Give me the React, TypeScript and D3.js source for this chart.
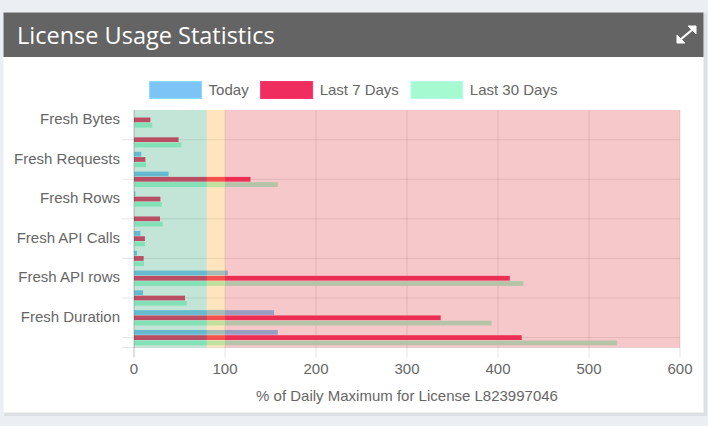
import { useEffect, useRef } from "react"
import * as d3 from "d3"

// 12 categories; the chart only prints every other label (auto-skip)
const categories = [
  "Fresh Bytes",
  "Total Bytes",
  "Fresh Requests",
  "Total Requests",
  "Fresh Rows",
  "Total Rows",
  "Fresh API Calls",
  "Total API Calls",
  "Fresh API rows",
  "Total API rows",
  "Fresh Duration",
  "Total Duration",
]
const shownLabels = categories.filter((_, i) => i % 2 === 0)

const seriesNames = ["Today", "Last 7 Days", "Last 30 Days"]
const today = [0, 0, 8, 38, 1.5, 0, 7, 3.3, 103, 10, 154, 158]
const last7 = [18, 49, 12.5, 128, 29, 28.6, 12, 10.6, 413, 56, 337, 426]
const last30 = [20, 52, 13.3, 158, 30.4, 31.5, 12, 11, 428, 58, 393, 531]
const seriesColors = ["#7dc4f6", "#f02d5f", "#a5fad2"]

// threshold bands drawn over the bars
const bands = [
  { from: 0, to: 80, color: "rgba(40,160,110,0.28)" },
  { from: 80, to: 100, color: "rgba(255,165,40,0.3)" },
  { from: 100, to: 600, color: "rgba(225,52,55,0.27)" },
]
const xTicks = [0, 100, 200, 300, 400, 500, 600]
const xTitle = "% of Daily Maximum for License L823997046"

export default function App() {
  const svgRef = useRef<SVGSVGElement>(null)

  useEffect(() => {
    if (!svgRef.current) return
    const W = 708
    const H = 426
    const svg = d3.select(svgRef.current)
    svg.selectAll("*").remove()

    const font = "'Liberation Sans', Arial, Helvetica, sans-serif"
    const textColor = "#666"

    // page + panel
    svg.append("rect").attr("width", W).attr("height", H).attr("fill", "#ebeef2")
    svg.append("rect").attr("x", 4).attr("y", 13).attr("width", 703).attr("height", 403).attr("fill", "#dcdfe3")
    svg.append("rect").attr("x", 3.5).attr("y", 12.5).attr("width", 700).attr("height", 400).attr("fill", "#fff")
    svg.append("rect").attr("x", 3.5).attr("y", 12.5).attr("width", 700).attr("height", 44.5).attr("fill", "#646464")
    svg
      .append("text")
      .attr("x", 17)
      .attr("y", 43.5)
      .attr("fill", "#fff")
      .style("font-family", "'Open Sans', sans-serif")
      .style("font-size", "23.5px")
      .text("License Usage Statistics")

    // expand icon
    const icon = svg.append("g").attr("stroke", "#fff").attr("fill", "#fff")
    icon.append("line").attr("x1", 680).attr("y1", 40).attr("x2", 693).attr("y2", 29).attr("stroke-width", 2.2)
    icon.append("path").attr("d", "M677,43 L677,35 L685,43 Z").attr("stroke-width", 1)
    icon.append("path").attr("d", "M696,26 L688,26 L696,34 Z").attr("stroke-width", 1)

    // plot area
    const left = 134
    const right = 680
    const top = 110
    const bottom = 347.5

    const x = d3.scaleLinear().domain([0, 600]).range([left, right])
    const y = d3.scaleBand<string>().domain(categories).range([top, bottom]).padding(0)
    const bw = y.bandwidth()
    const inner = d3
      .scaleBand<string>()
      .domain(seriesNames)
      .range([bw * 0.1, bw * 0.9])
      .paddingInner(0.1)
      .paddingOuter(0.05)

    // gridlines
    const grid = svg.append("g").attr("stroke", "rgba(0,0,0,0.1)").attr("stroke-width", 1)
    xTicks.forEach((t) => {
      grid
        .append("line")
        .attr("x1", x(t))
        .attr("x2", x(t))
        .attr("y1", top)
        .attr("y2", bottom + 10)
    })
    categories.forEach((c, i) => {
      if (i % 2 === 1) {
        const yy = (y(c) || 0) + bw / 2
        grid.append("line").attr("x1", left - 12).attr("x2", right).attr("y1", yy).attr("y2", yy)
      }
    })
    grid.append("line").attr("x1", left - 12).attr("x2", right).attr("y1", bottom).attr("y2", bottom)

    // bars
    const values = [today, last7, last30]
    seriesNames.forEach((s, si) => {
      svg
        .append("g")
        .selectAll("rect")
        .data(values[si])
        .enter()
        .append("rect")
        .attr("x", x(0))
        .attr("y", (_, i) => (y(categories[i]) || 0) + (inner(s) || 0))
        .attr("width", (d) => x(d) - x(0))
        .attr("height", inner.bandwidth())
        .attr("fill", seriesColors[si])
    })

    // bands on top
    svg
      .append("g")
      .selectAll("rect")
      .data(bands)
      .enter()
      .append("rect")
      .attr("x", (d) => x(d.from))
      .attr("y", top)
      .attr("width", (d) => x(d.to) - x(d.from))
      .attr("height", bottom - top)
      .attr("fill", (d) => d.color)

    // y axis line
    svg
      .append("line")
      .attr("x1", left)
      .attr("x2", left)
      .attr("y1", top)
      .attr("y2", bottom + 10)
      .attr("stroke", "rgba(0,0,0,0.15)")

    // y labels
    svg
      .append("g")
      .selectAll("text")
      .data(shownLabels)
      .enter()
      .append("text")
      .attr("x", 120)
      .attr("y", (d) => (y(d) || 0) + bw / 2)
      .attr("dy", "0.27em")
      .attr("text-anchor", "end")
      .attr("fill", textColor)
      .style("font-family", font)
      .style("font-size", "15px")
      .text((d) => d)

    // x tick labels
    svg
      .append("g")
      .selectAll("text")
      .data(xTicks)
      .enter()
      .append("text")
      .attr("x", (d) => x(d))
      .attr("y", 369)
      .attr("dy", "0.35em")
      .attr("text-anchor", "middle")
      .attr("fill", textColor)
      .style("font-family", font)
      .style("font-size", "15px")
      .text((d) => d)

    svg
      .append("text")
      .attr("x", (left + right) / 2)
      .attr("y", 396)
      .attr("dy", "0.35em")
      .attr("text-anchor", "middle")
      .attr("fill", textColor)
      .style("font-family", font)
      .style("font-size", "15px")
      .text(xTitle)

    // legend, centred on the canvas
    const legend = svg.append("g")
    const boxW = 52
    const boxH = 17
    let cx = 0
    seriesNames.forEach((s, i) => {
      const g = legend.append("g").attr("transform", `translate(${cx},0)`)
      g.append("rect")
        .attr("width", boxW)
        .attr("height", boxH)
        .attr("fill", seriesColors[i])
        .attr("stroke", d3.color(seriesColors[i])!.brighter(0.3).toString())
        .attr("stroke-width", 1)
      const t = g
        .append("text")
        .attr("x", boxW + 7)
        .attr("y", boxH / 2)
        .attr("dy", "0.35em")
        .attr("fill", textColor)
        .style("font-family", font)
        .style("font-size", "15px")
        .text(s)
      const tw = (t.node() as SVGTextElement).getComputedTextLength()
      cx += boxW + 7 + tw + 12
    })
    const totalW = cx - 12
    legend.attr("transform", `translate(${353.5 - totalW / 2},81.5)`)
  }, [])

  return (
    <svg
      ref={svgRef}
      width={708}
      height={426}
      style={{ position: "absolute", left: 0, top: 0, display: "block" }}
    />
  )
}
